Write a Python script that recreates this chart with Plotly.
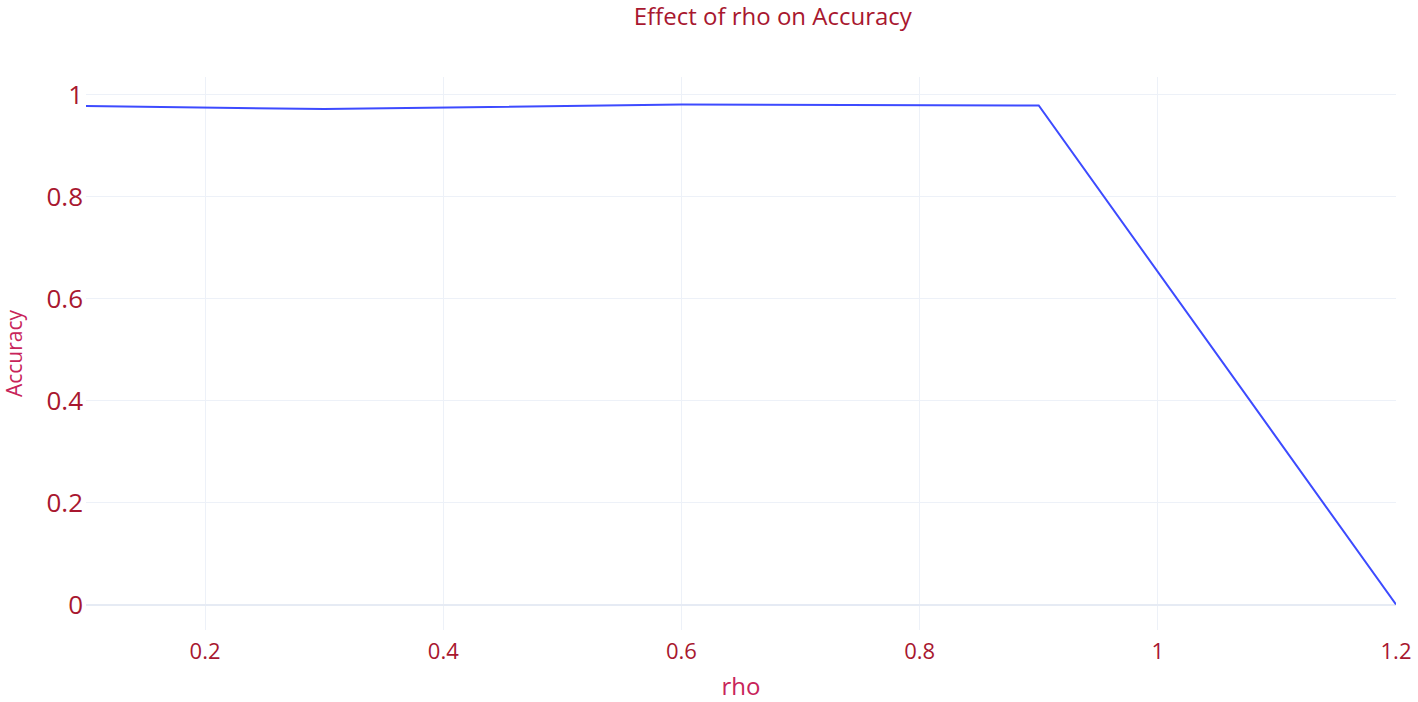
import plotly.graph_objects as go

rho = [0.1, 0.3, 0.6, 0.9, 1.2]
accuracy = [0.978, 0.972, 0.981, 0.979, 0.0]

x_ticks = [0.2, 0.4, 0.6, 0.8, 1.0, 1.2]
y_ticks = [0, 0.2, 0.4, 0.6, 0.8, 1.0]

dark_red = "#a8172f"
pink_red = "#c8245a"

fig = go.Figure()
fig.add_trace(go.Scatter(x=rho, y=accuracy, mode="lines",
                         line=dict(color="#3d4bff", width=2)))

fig.update_layout(
    template="plotly_white",
    width=1418, height=702,
    margin=dict(l=86, r=22, t=77, b=72),
    font=dict(family="Open Sans", color=dark_red),
    title=dict(text="Effect of rho on Accuracy", x=0.545, xanchor="center",
               y=0.976, yanchor="middle", yref="container",
               font=dict(size=24, color=dark_red)),
    showlegend=False,
)
fig.update_xaxes(range=[0.1, 1.2], tickvals=x_ticks, ticktext=["0.2", "0.4", "0.6", "0.8", "1", "1.2"],
                 tickfont=dict(size=22, color=dark_red), automargin=False, ticklabelstandoff=6,
                 title=dict(text="rho", font=dict(size=24, color=pink_red), standoff=14),
                 gridcolor="#edf1f8", zeroline=False)
fig.update_yaxes(range=[-0.05, 1.035], tickvals=y_ticks, ticktext=["0", "0.2", "0.4", "0.6", "0.8", "1"],
                 tickfont=dict(size=26, color=dark_red), automargin=False, ticklabelstandoff=2,
                 title=dict(text="Accuracy", font=dict(size=21, color=pink_red), standoff=19),
                 gridcolor="#edf1f8", zerolinecolor="#e6ebf4", zerolinewidth=2)

# Rand vom body weg, sonst ist alles um 8px verschoben
fig.write_html("out.html", config={"displayModeBar": False},
               post_script="document.body.style.margin='0';")
